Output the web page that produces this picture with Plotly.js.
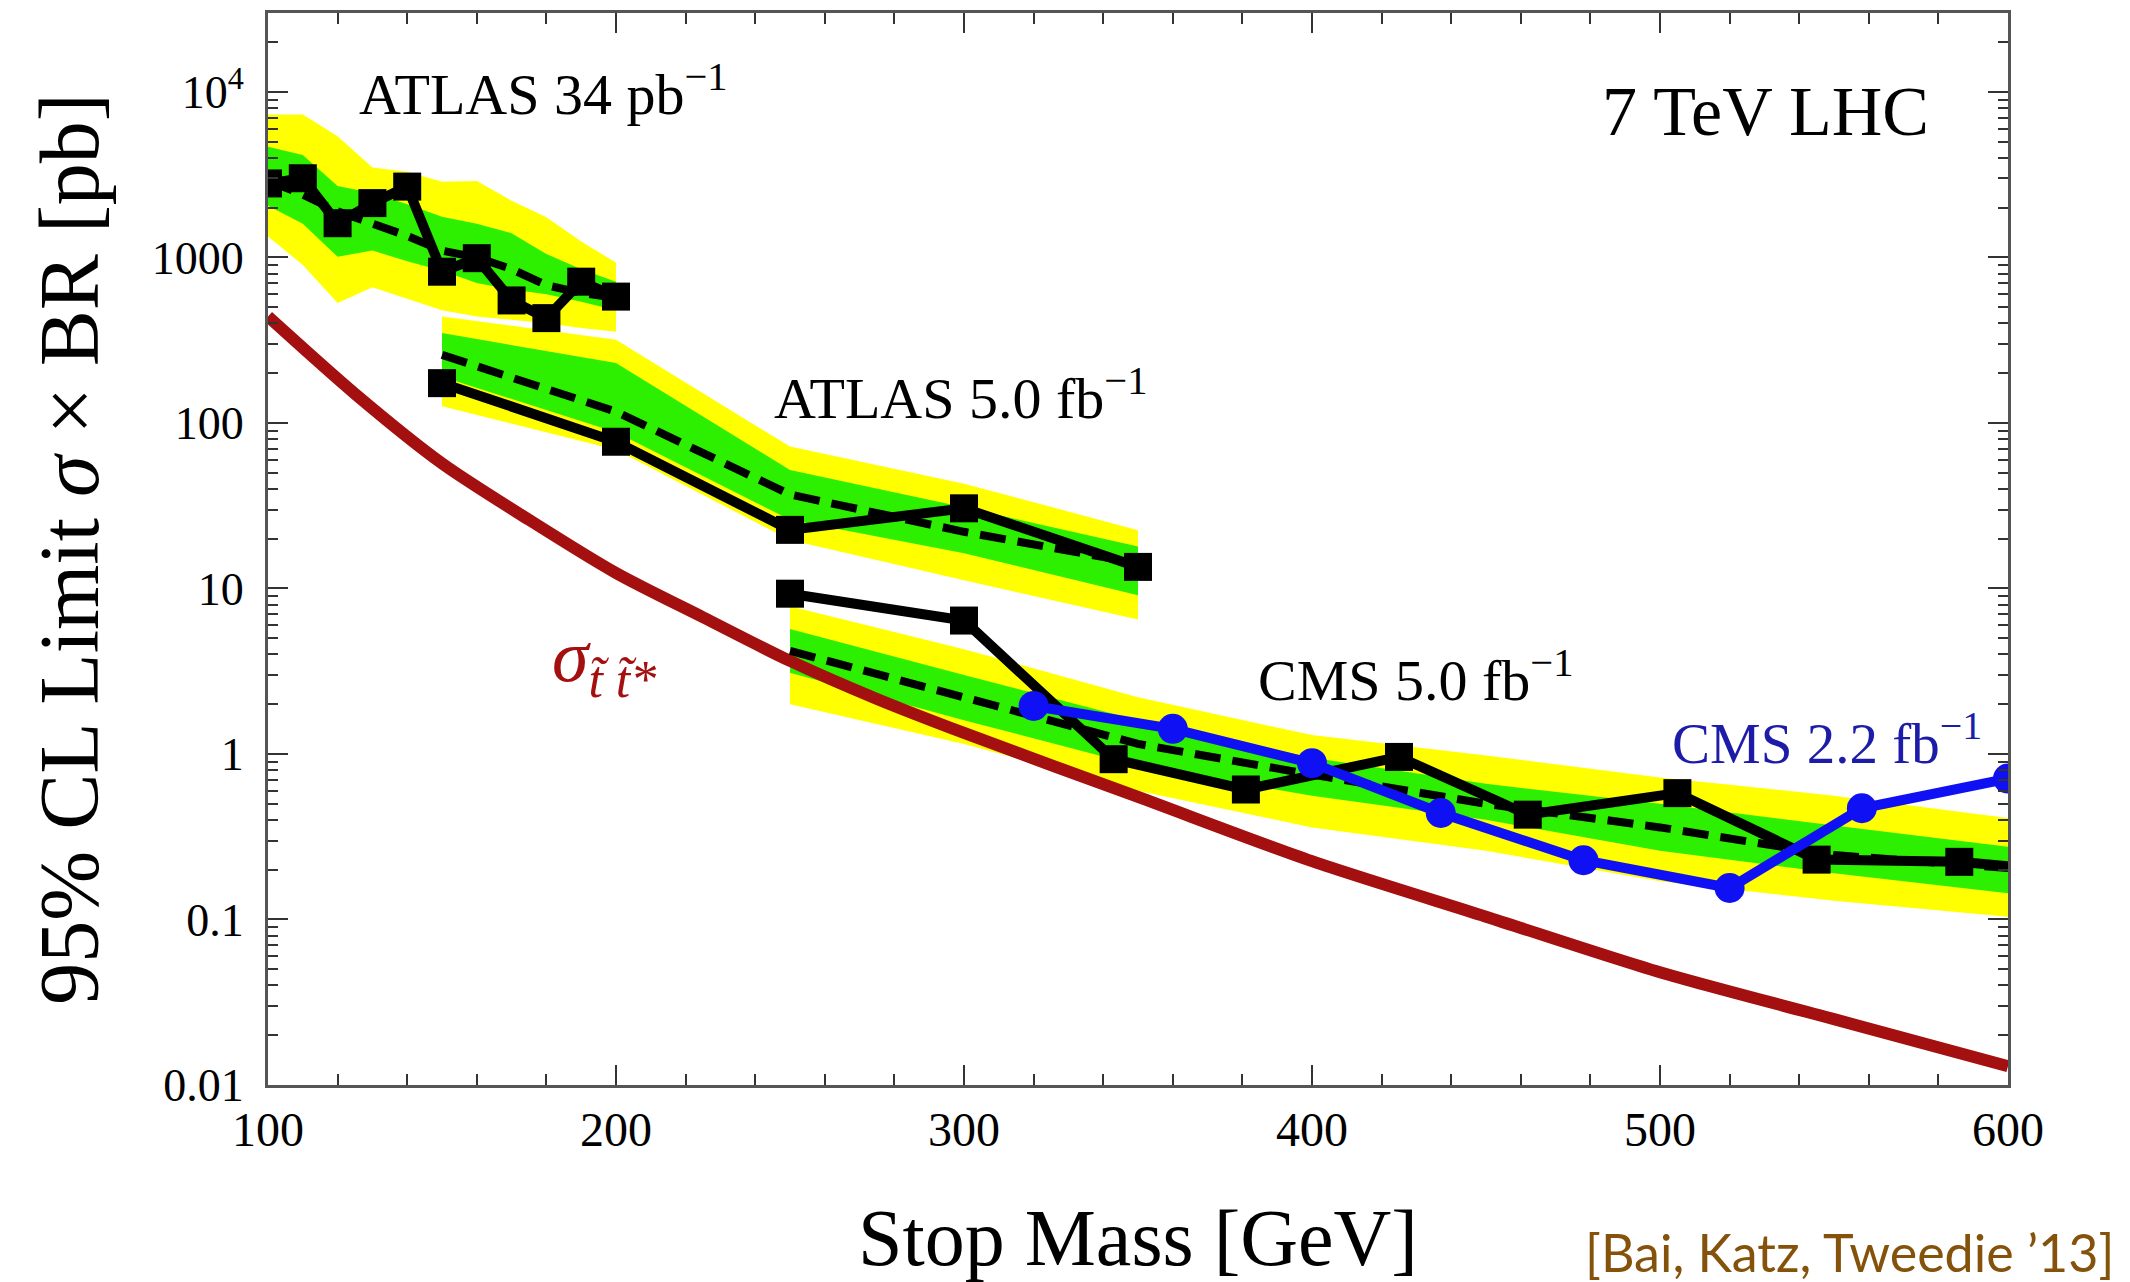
<!DOCTYPE html>
<html>
<head>
<meta charset="utf-8">
<script src="https://cdn.plot.ly/plotly-3.0.1.min.js"></script>
<style>html,body{margin:0;padding:0;background:#fff;}#chart{width:2130px;height:1282px;}</style>
</head>
<body>
<div id="chart"></div>
<script>
// ---------------- data ----------------
// Theory stop-pair cross section (pb)
const theoryMass = [100,125,150,175,200,225,250,275,300,350,400,450,500,550,600];
const theoryXsec = [440,150,57,26,12.4,6.7,3.65,2.15,1.34,0.55,0.225,0.104,0.048,0.025,0.013];

// ATLAS 34 pb^-1
const atlas34Mass = [100,110,120,130,140,150,160,170,180,190,200];
const atlas34Obs  = [2800,3010,1610,2130,2680,820,990,550,430,714,580];
const atlas34Exp  = [2900,2400,1900,1600,1350,1100,1000,850,680,610,570];
const atlas34YTop = [7300,7300,5400,3500,3300,2870,2900,2200,1750,1250,930];
const atlas34GTop = [4670,4160,2700,2450,2100,1760,1600,1400,1050,850,714];
const atlas34GBot = [2050,1600,1010,1100,950,830,700,640,600,540,480];
const atlas34YBot = [1340,900,530,660,560,480,440,420,400,375,356];

// ATLAS 5.0 fb^-1
const atlas5Mass = [150,200,250,300,350];
const atlas5Obs  = [174,77,22.6,30.5,13.5];
const atlas5Exp  = [258,117,37,22,14.2];
const atlas5YTop = [440,318,72,43,22.5];
const atlas5GTop = [349,230,52,31,17.9];
const atlas5GBot = [190,88,26,16.3,9.1];
const atlas5YBot = [126,69,19.6,11.2,6.5];

// CMS 5.0 fb^-1 (line runs to the frame at 600; last marker at 586)
const cms5ObsMass = [250,300,343,381,425,462,505,545,586,600];
const cms5Obs     = [9.3,6.4,0.93,0.61,0.96,0.43,0.58,0.23,0.223,0.21];
const cms5BandMass = [250,300,350,400,450,500,550,600];
const cms5Exp  = [4.2,2.2,1.15,0.75,0.5,0.36,0.245,0.205];
const cms5YTop = [7.8,4.3,2.2,1.3,0.98,0.72,0.56,0.41];
const cms5GTop = [5.7,3.0,1.6,0.95,0.66,0.5,0.37,0.275];
const cms5GBot = [3.1,1.6,0.85,0.56,0.4,0.26,0.19,0.144];
const cms5YBot = [2.0,1.15,0.6,0.36,0.26,0.17,0.13,0.104];

// CMS 2.2 fb^-1
const cms22Mass = [320,360,400,437,478,520,558,600];
const cms22Obs  = [1.95,1.42,0.88,0.44,0.228,0.155,0.47,0.71];

// axis tick labels
const yTickVals = [0.01,0.1,1,10,100,1000,10000];
const yTickText = ['0.01','0.1','1','10','100','1000','10<sup>4</sup>'];
const xTickVals = [100,200,300,400,500,600];

// ---------------- styling ----------------
const YELLOW = '#ffff00';
const GREEN  = '#2cf000';
const RED    = '#a3100f';
const BLUE   = '#1010f5';
const SERIF  = 'Liberation Serif, Times New Roman, serif';

function band(xs, top, bot, color){
  return {
    x: xs.concat(xs.slice().reverse()),
    y: top.concat(bot.slice().reverse()),
    type: 'scatter', mode: 'lines', fill: 'toself',
    fillcolor: color, line: {width: 0, color: color},
    hoverinfo: 'skip'
  };
}
function dashed(xs, ys){
  return {x: xs, y: ys, type: 'scatter', mode: 'lines',
          line: {color: '#000', width: 8, dash: '26px,12px'}};
}
function obsLine(xs, ys){
  return {x: xs, y: ys, type: 'scatter', mode: 'lines',
          line: {color: '#000', width: 10}};
}
function obsMarks(xs, ys){
  return {x: xs, y: ys, type: 'scatter', mode: 'markers',
          marker: {symbol: 'square', size: 28, color: '#000', opacity: 1}};
}

const nCms5Marks = cms5ObsMass.length - 1;

const traces = [
  band(atlas34Mass, atlas34YTop, atlas34YBot, YELLOW),
  band(atlas34Mass, atlas34GTop, atlas34GBot, GREEN),
  band(atlas5Mass, atlas5YTop, atlas5YBot, YELLOW),
  band(atlas5Mass, atlas5GTop, atlas5GBot, GREEN),
  band(cms5BandMass, cms5YTop, cms5YBot, YELLOW),
  band(cms5BandMass, cms5GTop, cms5GBot, GREEN),
  {x: theoryMass, y: theoryXsec, type: 'scatter', mode: 'lines',
   line: {color: RED, width: 12, shape: 'spline', smoothing: 0.8}},
  dashed(atlas34Mass, atlas34Exp),
  dashed(atlas5Mass, atlas5Exp),
  dashed(cms5BandMass, cms5Exp),
  obsLine(atlas34Mass, atlas34Obs), obsMarks(atlas34Mass, atlas34Obs),
  obsLine(atlas5Mass, atlas5Obs), obsMarks(atlas5Mass, atlas5Obs),
  obsLine(cms5ObsMass, cms5Obs),
  obsMarks(cms5ObsMass.slice(0, nCms5Marks), cms5Obs.slice(0, nCms5Marks)),
  {x: cms22Mass, y: cms22Obs, type: 'scatter', mode: 'lines+markers',
   line: {color: BLUE, width: 10},
   marker: {symbol: 'circle', size: 30, color: BLUE, opacity: 1}}
];

// minor tick positions on the log axis (2..9 of each decade)
const yMinor = [];
for (let e = -2; e <= 4; e++) for (let d = 2; d <= 9; d++) yMinor.push(d * Math.pow(10, e));

const axisCommon = {
  showgrid: false, zeroline: false, showline: true,
  linecolor: '#555', linewidth: 3, mirror: 'ticks',
  ticks: 'inside', tickcolor: '#333', tickwidth: 2, ticklen: 20
};

const layout = {
  width: 2130, height: 1282,
  margin: {l: 268, r: 122, t: 13, b: 197},
  paper_bgcolor: '#fff', plot_bgcolor: '#fff',
  showlegend: false, hovermode: false,
  font: {family: SERIF, color: '#000'},
  xaxis: Object.assign({}, axisCommon, {
    range: [100, 600], tickmode: 'array', tickvals: xTickVals,
    tickfont: {family: SERIF, size: 48, color: '#000'},
    ticklabelstandoff: 0,
    minor: {ticks: 'inside', tickmode: 'linear', tick0: 100, dtick: 20,
            ticklen: 11, tickwidth: 2, tickcolor: '#333'},
    title: {text: 'Stop Mass [GeV]', font: {family: SERIF, size: 80, color: '#000'}, standoff: 56}
  }),
  yaxis: Object.assign({}, axisCommon, {
    type: 'log', range: [-2, 4.477],
    tickmode: 'array', tickvals: yTickVals, ticktext: yTickText,
    tickfont: {family: SERIF, size: 46, color: '#000'},
    ticklabelstandoff: 12,
    minor: {ticks: 'inside', tickmode: 'array', tickvals: yMinor,
            ticklen: 10, tickwidth: 2, tickcolor: '#333'},
    title: {text: '95% CL Limit <i>σ</i> × BR [pb]', font: {family: SERIF, size: 84, color: '#000'}, standoff: 26}
  }),
  annotations: [
    {x: 125.7, y: 4.01, xref: 'x', yref: 'y', xanchor: 'left', yanchor: 'middle', showarrow: false,
     text: 'ATLAS 34 pb<sup>−1</sup>', font: {family: SERIF, size: 58, color: '#000'}},
    {x: 244.7, y: 2.17, xref: 'x', yref: 'y', xanchor: 'left', yanchor: 'middle', showarrow: false,
     text: 'ATLAS 5.0 fb<sup>−1</sup>', font: {family: SERIF, size: 58, color: '#000'}},
    {x: 384, y: 0.47, xref: 'x', yref: 'y', xanchor: 'left', yanchor: 'middle', showarrow: false,
     text: 'CMS 5.0 fb<sup>−1</sup>', font: {family: SERIF, size: 58, color: '#000'}},
    {x: 503, y: 0.09, xref: 'x', yref: 'y', xanchor: 'left', yanchor: 'middle', showarrow: false,
     text: 'CMS 2.2 fb<sup>−1</sup>', font: {family: SERIF, size: 57, color: '#1c1ca8'}},
    {x: 578, y: 3.88, xref: 'x', yref: 'y', xanchor: 'right', yanchor: 'middle', showarrow: false,
     text: '7 TeV LHC', font: {family: SERIF, size: 70, color: '#000'}},
    {x: 181, y: 0.56, xref: 'x', yref: 'y', xanchor: 'left', yanchor: 'middle', showarrow: false,
     text: '<i>σ</i><sub><i>t̃ t̃*</i></sub>', font: {family: SERIF, size: 74, color: RED}},
    {x: 1.062, y: -0.156, xref: 'paper', yref: 'paper', xanchor: 'right', yanchor: 'middle', showarrow: false,
     text: '[Bai, Katz, Tweedie ’13]', font: {family: 'Lato, Open Sans, sans-serif', size: 52, color: '#84520a'}}
  ]
};

Plotly.newPlot('chart', traces, layout, {staticPlot: true, displayModeBar: false});
</script>
</body>
</html>
